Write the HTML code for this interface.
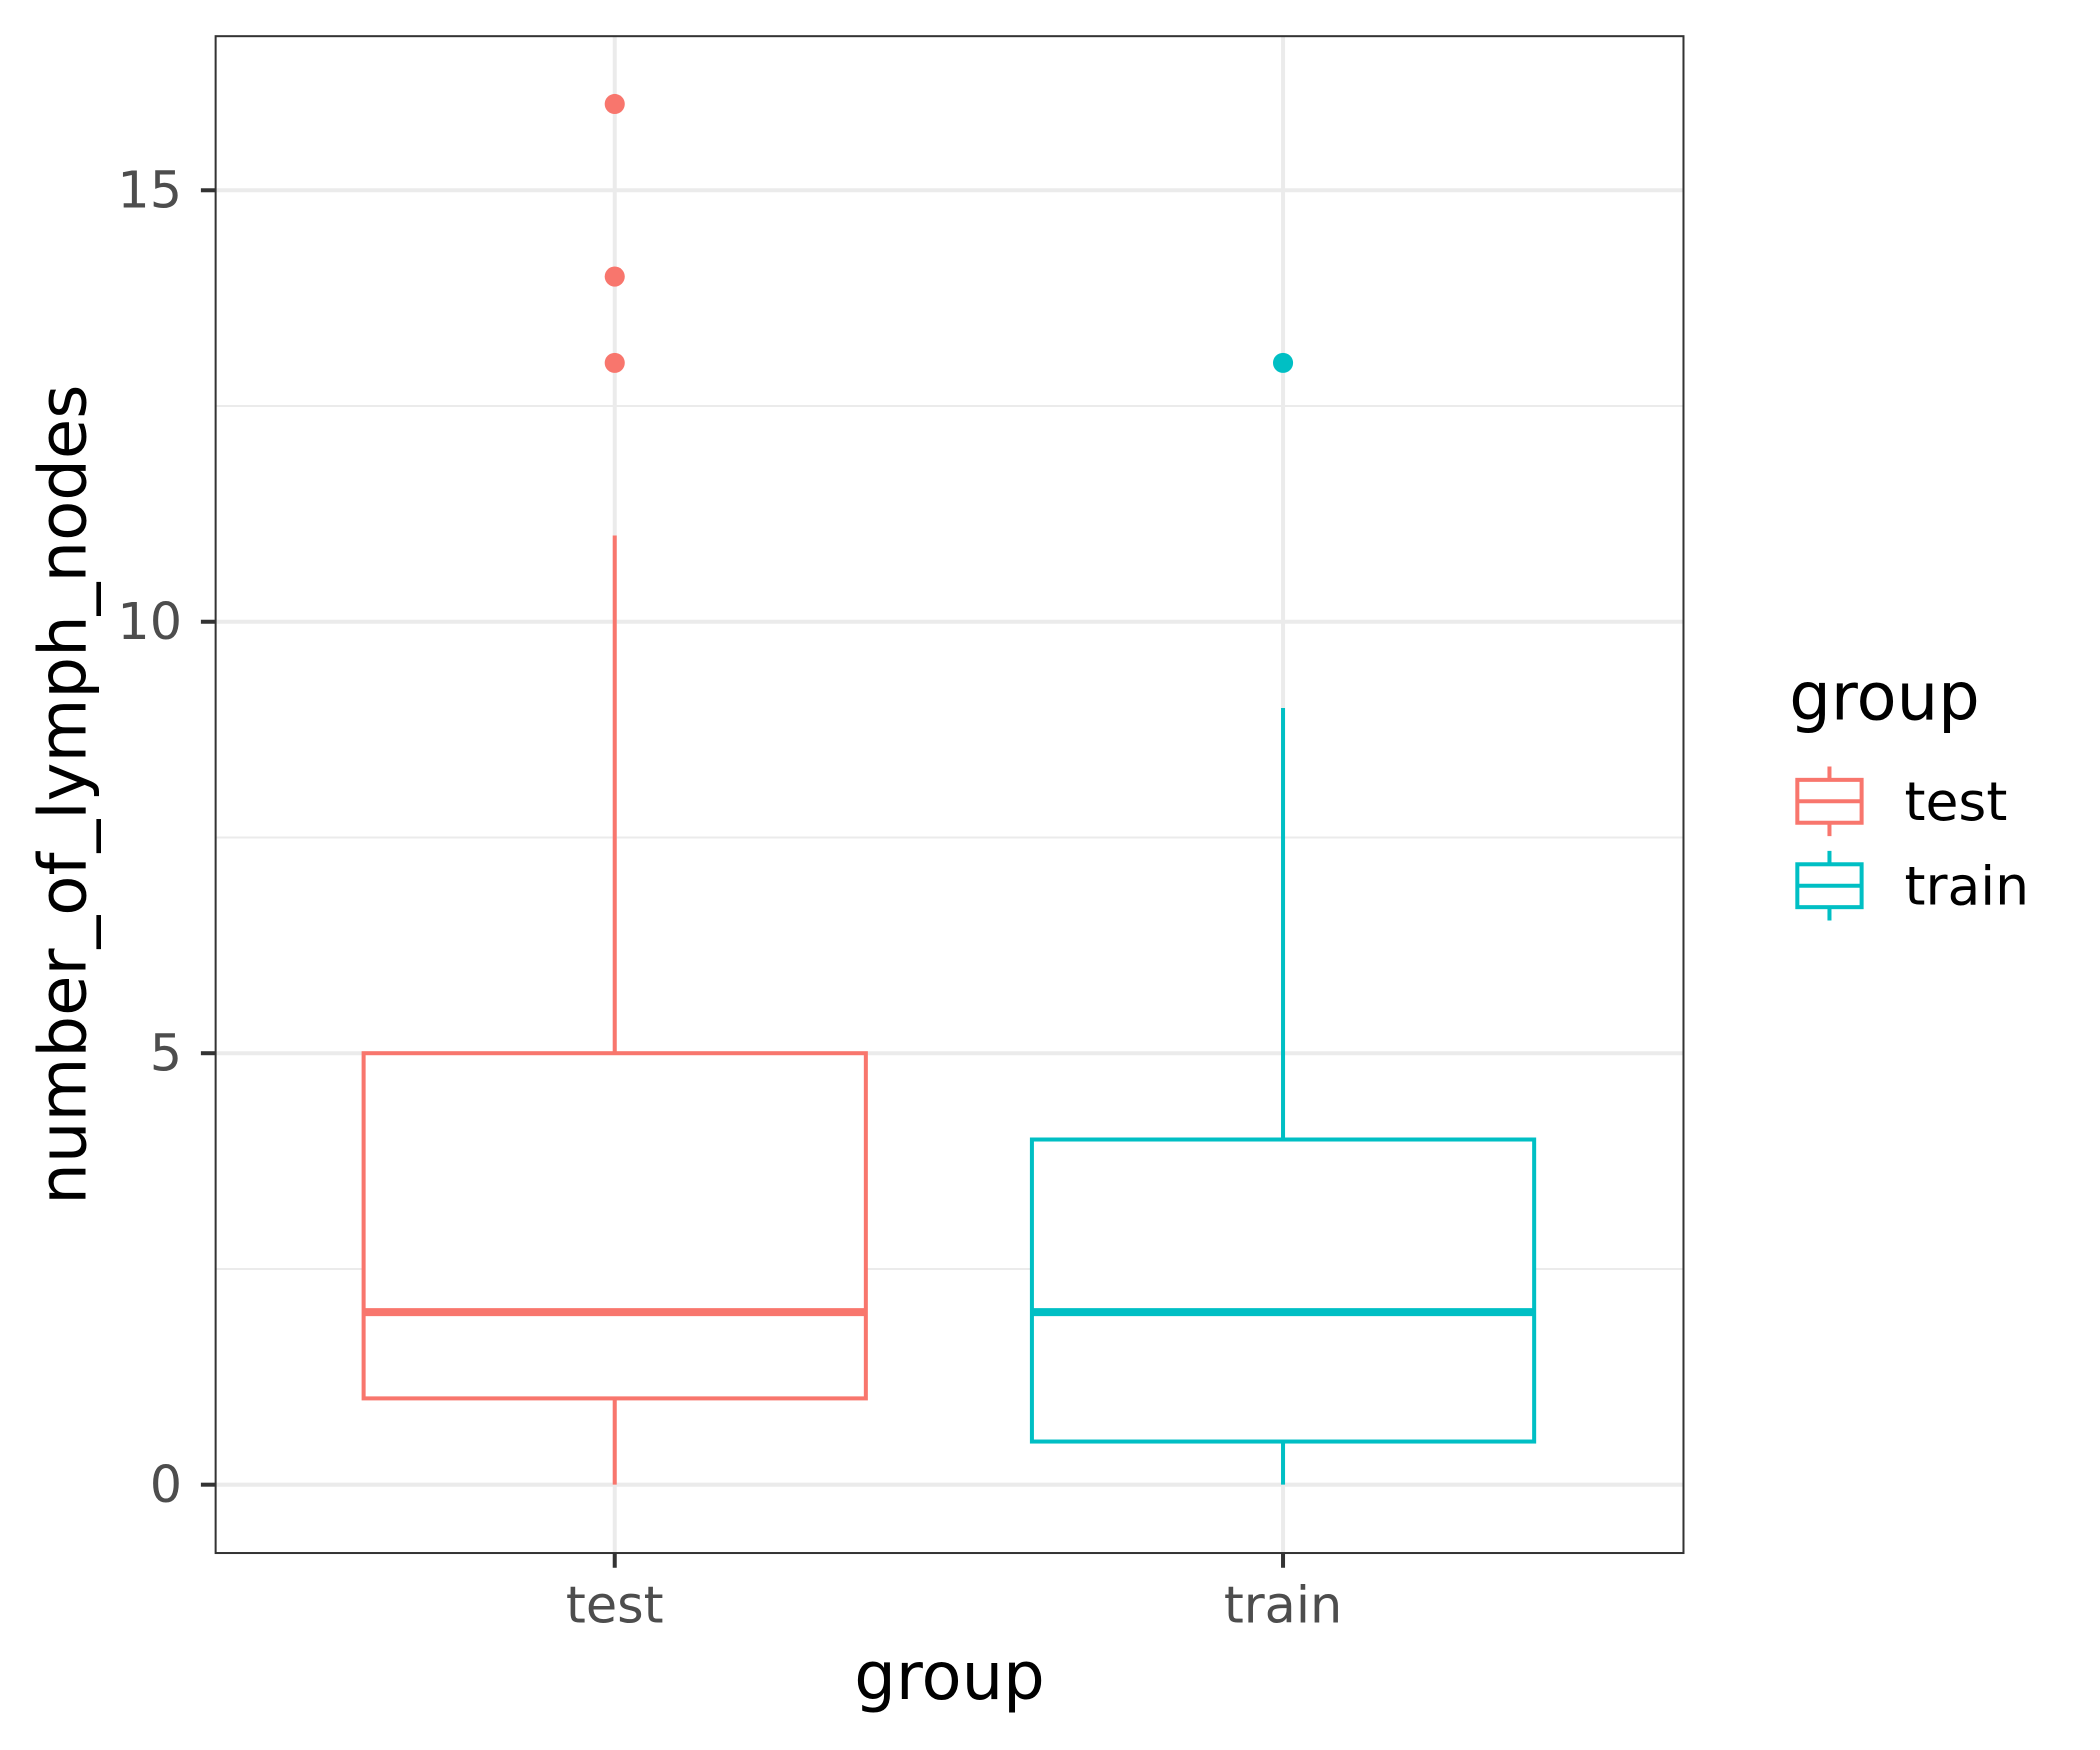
<!DOCTYPE html>
<html><head><meta charset="utf-8"><style>
html,body{margin:0;padding:0;background:#fff}
svg{display:block;font-family:"DejaVu Sans","Liberation Sans",sans-serif}
</style></head><body>
<svg id="chart" width="2100" height="1750" viewBox="0 0 1568 1306" preserveAspectRatio="none">
<rect x="0" y="0" width="1568" height="1306" fill="#fff"/>
<g id="grid"></g>
<g id="marks"></g>
<rect x="161" y="27" width="1096" height="1132" fill="none" stroke="#333" stroke-width="1.5"/>
<g id="axes"></g>
<text x="709" y="1268" font-size="49" text-anchor="middle" fill="#000">group</text>
<text transform="translate(64,593) rotate(-90)" font-size="49" text-anchor="middle" fill="#000">number_of_lymph_nodes</text>
<g id="legend">
<text x="1336" y="537" font-size="49" fill="#000">group</text>
</g>
</svg>
<script>
const categories = ["test", "train"];
const colors = ["#F8766D", "#00BFC4"];
const q1 = [1, 0.5];
const medians = [2, 2];
const q3 = [5, 4];
const whiskerLow = [0, 0];
const whiskerHigh = [11, 9];
const outliers = [[13, 14, 16], [13]];
const yTicks = [0, 5, 10, 15];
const yMinor = [2.5, 7.5, 12.5];

const NS = "http://www.w3.org/2000/svg";
function y(v){ return 1108 - v * 64.4; }
function x(i){ return 459 + i * 499; }
const halfW = 187.5;
function mk(parent, tag, attrs){
  const e = document.createElementNS(NS, tag);
  for (const k in attrs) e.setAttribute(k, attrs[k]);
  document.getElementById(parent).appendChild(e);
  return e;
}
yMinor.forEach(v => {
  const l = mk('grid','line',{x1:161,x2:1257,y1:y(v),y2:y(v),stroke:'#EBEBEB','stroke-width':1.5});
  
  
});
yTicks.forEach(v => {
  const l = mk('grid','line',{x1:161,x2:1257,y1:y(v),y2:y(v),stroke:'#EBEBEB','stroke-width':3});
  
  
  const t = mk('axes','line',{x1:150,x2:161,y1:y(v),y2:y(v),stroke:'#333','stroke-width':3});
  
  
  const tx = mk('axes','text',{x:136,y:y(v)+13,'font-size':38,'text-anchor':'end',fill:'#4D4D4D'});
  tx.textContent = v;
  
  
});
categories.forEach((c, i) => {
  const cx = x(i);
  const g = mk('grid','line',{x1:cx,x2:cx,y1:27,y2:1159,stroke:'#EBEBEB','stroke-width':3});
  
  
  const t = mk('axes','line',{x1:cx,x2:cx,y1:1159,y2:1170,stroke:'#333','stroke-width':3});
  
  
  const tx = mk('axes','text',{x:cx,y:1211,'font-size':38,'text-anchor':'middle',fill:'#4D4D4D'});
  tx.textContent = c;
  
  
  const col = colors[i];
  const wl = mk('marks','line',{x1:cx,x2:cx,y1:y(q3[i]),y2:y(whiskerHigh[i]),stroke:col,'stroke-width':3});
  
  
  const wl2 = mk('marks','line',{x1:cx,x2:cx,y1:y(q1[i]),y2:y(whiskerLow[i]),stroke:col,'stroke-width':3});
  
  
  const b = mk('marks','rect',{x:cx-halfW,y:y(q3[i]),width:halfW*2,height:y(q1[i])-y(q3[i]),fill:'#fff',stroke:col,'stroke-width':3});
  
  
  const m = mk('marks','line',{x1:cx-halfW,x2:cx+halfW,y1:y(medians[i]),y2:y(medians[i]),stroke:col,'stroke-width':6});
  
  
  outliers[i].forEach(v => {
    const p = mk('marks','circle',{cx:cx,cy:y(v),r:7.5,fill:col});
    
    
  });
  const ky = 598 + i * 63;
  const kg = mk('legend','g',{});
  
  
  [['line',{x1:1366,x2:1366,y1:ky-26,y2:ky+26,stroke:col,'stroke-width':3}],
   ['rect',{x:1342,y:ky-16,width:48,height:32,fill:'#fff',stroke:col,'stroke-width':3}],
   ['line',{x1:1342,x2:1390,y1:ky,y2:ky,stroke:col,'stroke-width':3}]].forEach(([tg,a]) => {
    const e = document.createElementNS(NS, tg);
    for (const k in a) e.setAttribute(k, a[k]);
    kg.appendChild(e);
  });
  const lt = document.createElementNS(NS,'text');
  lt.setAttribute('x',1422); lt.setAttribute('y',ky+14);
  lt.setAttribute('font-size',40); lt.setAttribute('fill','#000');
  lt.textContent = c;
  kg.appendChild(lt);
});
</script>
</body></html>
